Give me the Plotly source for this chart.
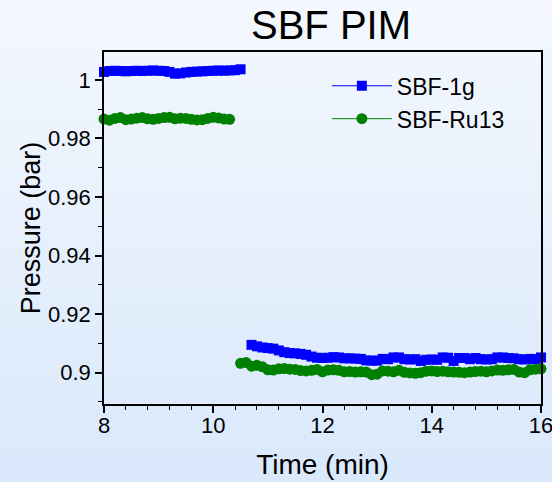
import base64
import plotly.graph_objects as go

# ---------------- data ----------------
t_1g_a = [8.0, 8.1, 8.2, 8.3, 8.4, 8.5, 8.6, 8.7, 8.8, 8.9, 9.0, 9.1, 9.2, 9.3,
          9.4, 9.5, 9.6, 9.7, 9.8, 9.9, 10.0, 10.1, 10.2, 10.3, 10.4, 10.5]
p_1g_a = [1.0027, 1.0030, 1.0031, 1.0030, 1.0029, 1.0030, 1.0031, 1.0030, 1.0031, 1.0032,
          1.0031, 1.0030, 1.0027, 1.0021, 1.0022, 1.0025, 1.0027, 1.0028, 1.0029, 1.0030,
          1.0031, 1.0032, 1.0031, 1.0032, 1.0033, 1.0036]
t_1g_b = [10.7, 10.8, 10.9, 11.0, 11.1, 11.2, 11.3, 11.4, 11.5, 11.6, 11.7, 11.8, 11.9,
          12.0, 12.1, 12.2, 12.3, 12.4, 12.5, 12.6, 12.7, 12.8, 12.9, 13.0, 13.1, 13.2,
          13.3, 13.4, 13.5, 13.6, 13.7, 13.8, 13.9, 14.0, 14.1, 14.2, 14.3, 14.4, 14.5,
          14.6, 14.7, 14.8, 14.9, 15.0, 15.1, 15.2, 15.3, 15.4, 15.5, 15.6, 15.7, 15.8,
          15.9, 16.0]
p_1g_b = [0.9095, 0.9090, 0.9086, 0.9084, 0.9082, 0.9076, 0.9070, 0.9067, 0.9066, 0.9064,
          0.9061, 0.9055, 0.9051, 0.9050, 0.9051, 0.9053, 0.9052, 0.9049, 0.9049, 0.9048,
          0.9047, 0.9042, 0.9041, 0.9041, 0.9047, 0.9046, 0.9052, 0.9052, 0.9046, 0.9045,
          0.9046, 0.9040, 0.9044, 0.9045, 0.9044, 0.9052, 0.9051, 0.9040, 0.9050, 0.9050,
          0.9046, 0.9050, 0.9046, 0.9045, 0.9046, 0.9052, 0.9052, 0.9050, 0.9049, 0.9046,
          0.9045, 0.9047, 0.9046, 0.9052]

t_ru_a = [8.0, 8.1, 8.2, 8.3, 8.4, 8.5, 8.6, 8.7, 8.8, 8.9, 9.0, 9.1, 9.2, 9.3,
          9.4, 9.5, 9.6, 9.7, 9.8, 9.9, 10.0, 10.1, 10.2, 10.3]
p_ru_a = [0.9866, 0.9862, 0.9868, 0.9871, 0.9864, 0.9866, 0.9869, 0.9871, 0.9867, 0.9865,
          0.9868, 0.9871, 0.9872, 0.9867, 0.9869, 0.9868, 0.9865, 0.9863, 0.9864, 0.9868,
          0.9872, 0.9870, 0.9866, 0.9865]
t_ru_b = [10.5, 10.6, 10.7, 10.8, 10.9, 11.0, 11.1, 11.2, 11.3, 11.4, 11.5, 11.6, 11.7,
          11.8, 11.9, 12.0, 12.1, 12.2, 12.3, 12.4, 12.5, 12.6, 12.7, 12.8, 12.9, 13.0,
          13.1, 13.2, 13.3, 13.4, 13.5, 13.6, 13.7, 13.8, 13.9, 14.0, 14.1, 14.2, 14.3,
          14.4, 14.5, 14.6, 14.7, 14.8, 14.9, 15.0, 15.1, 15.2, 15.3, 15.4, 15.5, 15.6,
          15.7, 15.8, 15.9, 16.0]
p_ru_b = [0.9032, 0.9035, 0.9022, 0.9025, 0.9020, 0.9010, 0.9009, 0.9013, 0.9014, 0.9012,
          0.9011, 0.9007, 0.9006, 0.9008, 0.9011, 0.9003, 0.9009, 0.9010, 0.9008, 0.9003,
          0.9004, 0.9002, 0.9003, 0.9002, 0.8993, 0.8995, 0.9006, 0.9005, 0.9003, 0.9008,
          0.9001, 0.8999, 0.8998, 0.9000, 0.9005, 0.9006, 0.9004, 0.9005, 0.9003, 0.9002,
          0.9001, 0.9000, 0.9002, 0.9004, 0.9005, 0.9003, 0.9006, 0.9009, 0.9008, 0.9010,
          0.9011, 0.9002, 0.9000, 0.9010, 0.9012, 0.9013]

x_ticks = [8, 10, 12, 14, 16]
x_tick_text = ["8", "10", "12", "14", "16"]
y_ticks = [0.90, 0.92, 0.94, 0.96, 0.98, 1.00]
y_tick_text = ["0.9", "0.92", "0.94", "0.96", "0.98", "1"]

# ---------------- layout constants ----------------
W, H = 552, 482
ML, MR, MT, MB = 104, 11, 52, 78
PW, PH = W - ML - MR, H - MT - MB
FONT = "Liberation Sans, Arial, sans-serif"

svg = (
    '<svg xmlns="http://www.w3.org/2000/svg" width="100" height="100" preserveAspectRatio="none">'
    '<defs><linearGradient id="g" x1="0" y1="0" x2="0" y2="1">'
    '<stop offset="0" stop-color="#F4F8FE"/><stop offset="1" stop-color="#D9E8FB"/>'
    '</linearGradient></defs><rect width="100" height="100" fill="url(#g)"/></svg>'
)
bg_src = "data:image/svg+xml;base64," + base64.b64encode(svg.encode()).decode()

fig = go.Figure()
fig.add_trace(go.Scatter(
    x=t_1g_a + [None] + t_1g_b, y=p_1g_a + [None] + p_1g_b,
    name="SBF-1g", mode="lines+markers", connectgaps=False, cliponaxis=False,
    line=dict(color="#0000FF", width=1),
    marker=dict(symbol="square", size=10, color="#0000FF"),
))
fig.add_trace(go.Scatter(
    x=t_ru_a + [None] + t_ru_b, y=p_ru_a + [None] + p_ru_b,
    name="SBF-Ru13", mode="lines+markers", connectgaps=False, cliponaxis=False,
    line=dict(color="#008000", width=1),
    marker=dict(symbol="circle", size=11, color="#008000"),
))

fig.update_layout(
    width=W, height=H,
    margin=dict(l=ML, r=MR, t=MT, b=MB, pad=0, autoexpand=False),
    paper_bgcolor="#E8F1FC", plot_bgcolor="rgba(0,0,0,0)",
    font=dict(family=FONT, color="black"),
    images=[dict(source=bg_src, xref="paper", yref="paper",
                 x=-ML / PW, y=1 + MT / PH, sizex=W / PW, sizey=H / PH,
                 xanchor="left", yanchor="top", sizing="stretch", layer="below")],
    title=dict(text="SBF PIM", x=(331 - ML) / PW, xref="paper", xanchor="center",
               y=1 - 25 / H, yref="container", yanchor="middle",
               font=dict(size=40, family=FONT)),
    showlegend=True,
    legend=dict(x=0.51, y=0.965, xanchor="left", yanchor="top",
                bgcolor="rgba(0,0,0,0)", font=dict(size=23, family=FONT),
                tracegroupgap=0, itemwidth=60),
)
fig.update_xaxes(
    range=[8, 16], tickvals=x_ticks, ticktext=x_tick_text, automargin=False,
    showgrid=False, zeroline=False,
    showline=True, linecolor="black", linewidth=1.5, mirror=True,
    ticks="outside", ticklen=7, tickwidth=1.5, tickcolor="black",
    tickfont=dict(size=22, family=FONT), ticklabeloverflow="allow", ticklabelstandoff=-6,
    minor=dict(dtick=0.4, tick0=8, ticks="outside", ticklen=4, tickwidth=1.2, tickcolor="black"),
    title=dict(text="Time (min)", font=dict(size=28, family=FONT), standoff=17),
)
fig.update_yaxes(
    range=[0.8893, 1.0095], tickvals=y_ticks, ticktext=y_tick_text, automargin=False,
    showgrid=False, zeroline=False,
    showline=True, linecolor="black", linewidth=1.5, mirror=True,
    ticks="outside", ticklen=7, tickwidth=1.5, tickcolor="black",
    tickfont=dict(size=22, family=FONT),
    minor=dict(dtick=0.01, tick0=0.9, ticks="outside", ticklen=4, tickwidth=1.2, tickcolor="black"),
    title=dict(text="Pressure (bar)", font=dict(size=27, family=FONT), standoff=0),
)

fig.write_html(
    "out.html",
    config={"displayModeBar": False},
    post_script="document.body.style.margin='0';document.body.style.overflow='hidden';",
)
